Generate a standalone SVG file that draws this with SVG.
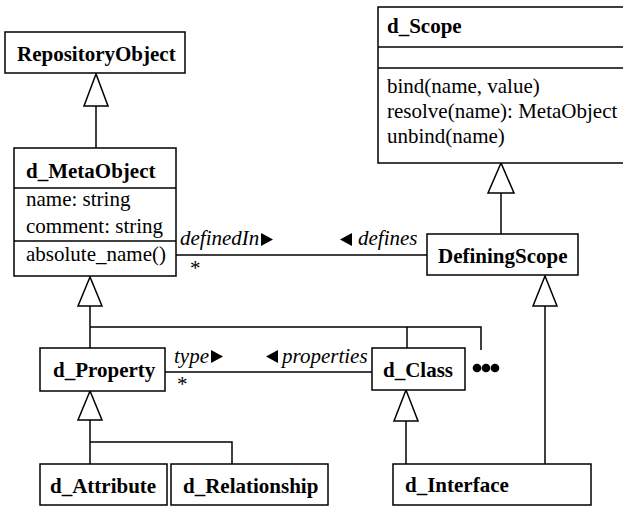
<svg xmlns="http://www.w3.org/2000/svg" width="623" height="506" viewBox="0 0 623 506">
<style>
.box{fill:#fff;stroke:#000;stroke-width:1.5}
.ln{fill:none;stroke:#000;stroke-width:1.5}
.tri{fill:#fff;stroke:#000;stroke-width:1.5;stroke-linejoin:miter}
.t{font-family:"Liberation Serif","Times New Roman",serif;font-size:21px;fill:#000}
.b{font-weight:bold}
.i{font-style:italic}
.ar{fill:#000}
</style>
<rect width="623" height="506" fill="#fff"/>
<g id="connectors">
  <!-- RepositoryObject <- d_MetaObject -->
  <line class="ln" x1="96" y1="106" x2="96" y2="148"/>
  <polygon class="tri" points="96,74 84,106 108,106"/>
  <!-- d_MetaObject <- subclasses -->
  <polyline class="ln" points="90,306 90,348"/>
  <polyline class="ln" points="90,327 481,327 481,350"/>
  <line class="ln" x1="407" y1="327" x2="407" y2="348"/>
  <polygon class="tri" points="90,277 78,306 102,306"/>
  <!-- d_Scope <- DefiningScope -->
  <line class="ln" x1="501" y1="193" x2="501" y2="234"/>
  <polygon class="tri" points="501,163 488,193 514,193"/>
  <!-- DefiningScope <- d_Interface -->
  <line class="ln" x1="545" y1="306" x2="545" y2="466"/>
  <polygon class="tri" points="545,276 533,306 557,306"/>
  <!-- d_Class <- d_Interface -->
  <line class="ln" x1="406" y1="421" x2="406" y2="464"/>
  <polygon class="tri" points="406,390 394,421 418,421"/>
  <!-- d_Property <- d_Attribute, d_Relationship -->
  <line class="ln" x1="90" y1="420" x2="90" y2="464"/>
  <polyline class="ln" points="90,442 232,442 232,464"/>
  <polygon class="tri" points="90,391 78,420 102,420"/>
  <!-- definedIn association -->
  <line class="ln" x1="176" y1="255" x2="427" y2="255"/>
  <text class="t i" x="180" y="245">definedIn</text>
  <polygon class="ar" points="261,233 273,239.5 261,246"/>
  <polygon class="ar" points="352,233 340,239.5 352,246"/>
  <text class="t i" x="358" y="245">defines</text>
  <text class="t" x="190" y="275">*</text>
  <!-- type association -->
  <line class="ln" x1="153" y1="372" x2="372" y2="372"/>
  <text class="t i" x="174" y="363">type</text>
  <polygon class="ar" points="211,350 223,356.5 211,363"/>
  <polygon class="ar" points="278,350 266,356.5 278,363"/>
  <text class="t i" x="282" y="363">properties</text>
  <text class="t" x="177" y="391">*</text>
</g>
<g id="RepositoryObject">
  <rect class="box" x="5" y="32" width="180" height="41"/>
  <text class="t b" x="17" y="61">RepositoryObject</text>
</g>
<g id="d_MetaObject">
  <rect class="box" x="14" y="148" width="162" height="128"/>
  <line class="ln" x1="14" y1="188" x2="176" y2="188"/>
  <line class="ln" x1="14" y1="241" x2="176" y2="241"/>
  <text class="t b" x="26" y="178">d_MetaObject</text>
  <text class="t" x="26" y="206">name: string</text>
  <text class="t" x="26" y="233">comment: string</text>
  <text class="t" x="26" y="261">absolute_name()</text>
</g>
<g id="d_Scope">
  <rect class="box" x="378" y="7" width="260" height="156"/>
  <line class="ln" x1="378" y1="47" x2="638" y2="47"/>
  <line class="ln" x1="378" y1="68" x2="638" y2="68"/>
  <text class="t b" x="387" y="33">d_Scope</text>
  <text class="t" x="387" y="93">bind(name, value)</text>
  <text class="t" x="387" y="118">resolve(name): MetaObject</text>
  <text class="t" x="387" y="143">unbind(name)</text>
</g>
<g id="DefiningScope">
  <rect class="box" x="427" y="234" width="151" height="41"/>
  <text class="t b" x="438" y="263">DefiningScope</text>
</g>
<g id="d_Property">
  <rect class="box" x="40" y="348" width="125" height="43"/>
  <text class="t b" x="53" y="377">d_Property</text>
</g>
<g id="d_Class">
  <rect class="box" x="372" y="348" width="93" height="42"/>
  <text class="t b" x="383" y="377">d_Class</text>
</g>
<g id="more">
  <circle cx="477" cy="368" r="4.3"/>
  <circle cx="486" cy="368" r="4.3"/>
  <circle cx="495" cy="368" r="4.3"/>
</g>
<g id="d_Attribute">
  <rect class="box" x="40" y="464" width="127" height="41"/>
  <text class="t b" x="50" y="493">d_Attribute</text>
</g>
<g id="d_Relationship">
  <rect class="box" x="171" y="464" width="157" height="41"/>
  <text class="t b" x="183" y="493">d_Relationship</text>
</g>
<g id="d_Interface">
  <rect class="box" x="393" y="464" width="198" height="41"/>
  <text class="t b" x="405" y="492">d_Interface</text>
</g>
</svg>
